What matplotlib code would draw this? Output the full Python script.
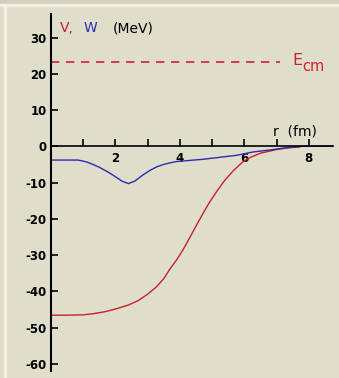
import matplotlib.pyplot as plt
import matplotlib.patches as mpatches

# values
r_V = [0.0, 0.5, 1.0, 1.3, 1.7, 2.0, 2.4, 2.7, 3.0, 3.27, 3.5, 3.68, 3.9, 4.1, 4.3, 4.5, 4.7, 4.9,
       5.17, 5.4, 5.65, 5.95, 6.2, 6.5, 7.0, 7.4, 7.7]
V = [-46.6, -46.6, -46.5, -46.2, -45.6, -44.9, -43.8, -42.6, -40.8, -38.8, -36.5, -34.0, -31.3,
     -28.5, -25.3, -22.0, -18.8, -15.7, -12.1, -9.3, -6.8, -4.3, -3.0, -1.9, -0.9, -0.4, -0.2]
r_W = [0.0, 0.84, 1.1, 1.3, 1.5, 1.75, 2.0, 2.2, 2.4, 2.6, 2.87, 3.1, 3.3, 3.5, 3.68, 3.9, 4.7,
       5.75, 6.25, 6.8, 7.3, 7.8, 8.75]
W = [-3.8, -3.8, -4.3, -5.0, -5.8, -7.0, -8.4, -9.6, -10.3, -9.6, -7.8, -6.5, -5.6, -5.0, -4.6,
     -4.2, -3.6, -2.5, -1.6, -1.0, -0.4, 0.0, 0.0]
E_cm = 23.3
r_ecm = [0.0, 7.1]
xticks = [1, 2, 3, 4, 5, 6, 7, 8]
xlabels = ['', '2', '', '4', '', '6', '', '8']
yticks = [30, 20, 10, 0, -10, -20, -30, -40, -50, -60]
ylabels = ['30', '20', '10', '0', '-10', '-20', '-30', '-40', '-50', '-60']

bg = '#dfdecb'
fig = plt.figure(figsize=(3.39, 3.78), dpi=100, facecolor=bg)
# window frame lines
fig.patches.append(mpatches.Rectangle((0, 1 - 4/378), 1, 4/378, transform=fig.transFigure, color='#d2d1be'))
fig.patches.append(mpatches.Rectangle((0, 1 - 6/378), 1, 2/378, transform=fig.transFigure, color='#f3f2e2'))
fig.patches.append(mpatches.Rectangle((4/339, 0), 2/339, 1 - 6/378, transform=fig.transFigure, color='#f3f2e2'))

ax = fig.add_axes([51/339, 1 - 371/378, 282/339, 357/378])
ax.set_facecolor('none')
ax.set_xlim(0, 8.75)
ax.set_ylim(-62, 36.5)

ax.plot(r_ecm, [E_cm, E_cm], color='#cc2233', lw=1.2, dashes=(5, 4))
ax.plot(r_V, V, color='#c8202c', lw=1.0)
ax.plot(r_W, W, color='#2b2bb0', lw=1.0)

for s in ['top', 'right']:
    ax.spines[s].set_visible(False)
ax.spines['left'].set_position(('data', 0))
ax.spines['bottom'].set_position(('data', 0))
ax.spines['left'].set_linewidth(1.5)
ax.spines['bottom'].set_linewidth(1.2)

ax.set_xticks(xticks)
ax.set_xticklabels(xlabels, fontsize=8.5, fontweight='bold', family='DejaVu Sans')
ax.set_yticks(yticks)
ax.set_yticklabels(ylabels, fontsize=8.5, fontweight='bold', family='DejaVu Sans')
ax.tick_params(axis='x', direction='in', length=5, width=1.2, pad=4)
ax.tick_params(axis='y', direction='in', length=5, width=1.2, pad=3)

ax.text(0.28, 32.5, 'V,', color='#c8202c', fontsize=10, ha='left', va='center')
ax.text(1.0, 32.5, 'W', color='#2b2bb0', fontsize=10, ha='left', va='center')
ax.text(1.93, 32.5, '(MeV)', color='black', fontsize=10, ha='left', va='center')
ax.text(6.9, 4.0, 'r  (fm)', color='black', fontsize=10, ha='left', va='center')
ax.text(7.5, 23.8, 'E', color='#cc2233', fontsize=11.5, ha='left', va='center')
ax.text(7.8, 21.9, 'cm', color='#cc2233', fontsize=10.5, ha='left', va='center')

fig.savefig('out.png', dpi=100, facecolor=bg)
